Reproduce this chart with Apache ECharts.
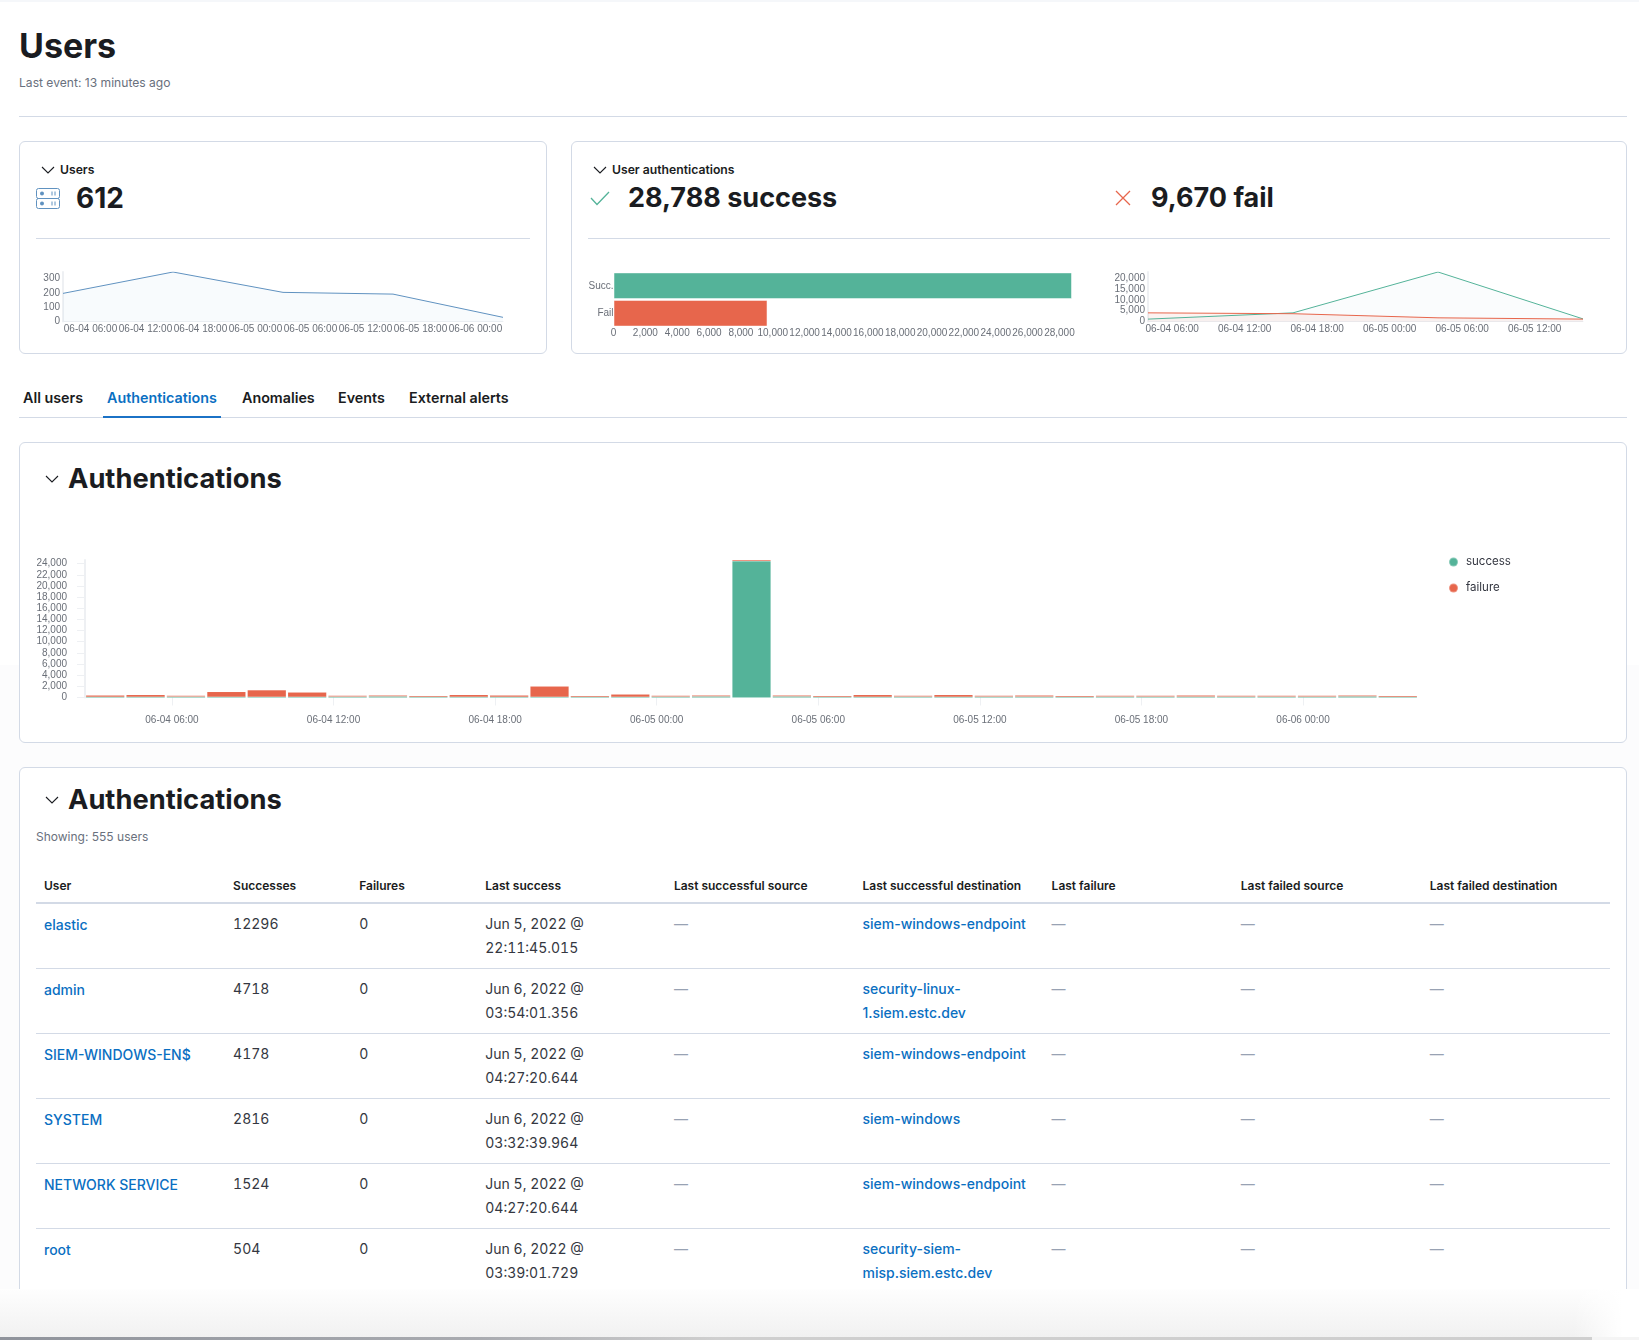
<!DOCTYPE html>
<html lang="en">
  <head>
    <meta charset="UTF-8" />
    <script src="https://cdn.jsdelivr.net/npm/echarts@6/dist/echarts.min.js"></script>
    <style>
      html,
      body {
        margin: 0;
        width: 1639px;
        height: 1340px;
        overflow: hidden;
        background: #fff;
        font-family: Inter, 'Noto Sans', sans-serif;
        color: #1a1c21;
      }
      .abs {
        position: absolute;
      }
      .card {
        position: absolute;
        box-sizing: border-box;
        border: 1px solid #d3dae6;
        border-radius: 6px;
        background: #fff;
      }
      .rule {
        position: absolute;
        height: 1px;
        background: #d3dae6;
      }
      .cardTitle {
        position: absolute;
        font-size: 12.2px;
        font-weight: 600;
        line-height: 16px;
      }
      .stat {
        position: absolute;
        font-size: 27px;
        font-weight: 700;
        line-height: 36px;
        white-space: nowrap;
      }
      .tab {
        position: absolute;
        top: 389px;
        font-size: 14.3px;
        font-weight: 600;
        line-height: 18px;
      }
      .panelTitle {
        position: absolute;
        left: 68px;
        font-size: 27.3px;
        font-weight: 700;
        line-height: 36px;
      }
      .chart {
        position: absolute;
      }
      table {
        border-collapse: collapse;
        table-layout: fixed;
        width: 1574px;
        font-size: 14px;
        line-height: 24px;
        color: #343741;
        font-variant-numeric: tabular-nums;
      }
      th {
        text-align: left;
        font-size: 12px;
        font-weight: 600;
        color: #1a1c21;
        height: 47px;
        padding: 14px 8px 0;
        border-bottom: 2px solid #d3dae6;
        box-sizing: border-box;
        font-variant-numeric: normal;
      }
      td {
        vertical-align: top;
        padding: 8px 8px 0;
        height: 65px;
        box-sizing: border-box;
        border-bottom: 1px solid #d3dae6;
      }
      td a {
        color: #0a6fc2;
        font-weight: 500;
        font-variant-numeric: normal;
      }
      td.user a {
        position: relative;
        top: 1px;
      }
      td.none {
        color: #98a2b3;
      }
    </style>
  </head>
  <body>
    <div class="abs" style="left: 0; top: 0; width: 1639px; height: 2px; background: #f5f7fa"></div>
    <div class="abs" style="left: 0; top: 665px; width: 1639px; height: 624px; background: #fcfcfd"></div>

    <div class="abs" style="left: 19px; top: 24px; font-size: 34px; font-weight: 700; line-height: 44px">Users</div>
    <div class="abs" style="left: 19px; top: 75px; font-size: 12.1px; line-height: 16px; color: #69707d">Last event: 13 minutes ago</div>
    <div class="rule" style="left: 19px; top: 116px; width: 1608px"></div>

    <div class="card" style="left: 19px; top: 141px; width: 528px; height: 213px"></div>
    <svg class="abs" style="left: 41px; top: 164px" width="14" height="12" viewBox="0 0 14 12">
      <path d="M1 3 L7 9 L13 3" fill="none" stroke="#1a1c21" stroke-width="1.1" />
    </svg>
    <div class="cardTitle" style="left: 60px; top: 162px">Users</div>
    <svg class="abs" style="left: 36px; top: 188px" width="24" height="21" viewBox="0 0 24 21">
      <g fill="none" stroke="#6092c0" stroke-width="1">
        <rect x="0.5" y="0.5" width="23" height="10" rx="2" />
        <rect x="0.5" y="10.5" width="23" height="10" rx="2" />
        <path d="M16 3.5 V7.5 M19 3.5 V7.5 M16 13.5 V17.5 M19 13.5 V17.5" />
      </g>
      <circle cx="6" cy="5.5" r="2" fill="#6092c0" />
      <circle cx="6" cy="15.5" r="2" fill="#6092c0" />
    </svg>
    <div class="stat" style="left: 76px; top: 180px; font-size: 28px">612</div>
    <div class="rule" style="left: 36px; top: 238px; width: 494px"></div>
    <div id="usersArea" class="chart" style="left: 20px; top: 262px; width: 520px; height: 85px"></div>

    <div class="card" style="left: 571px; top: 141px; width: 1056px; height: 213px"></div>
    <svg class="abs" style="left: 593px; top: 164px" width="14" height="12" viewBox="0 0 14 12">
      <path d="M1 3 L7 9 L13 3" fill="none" stroke="#1a1c21" stroke-width="1.1" />
    </svg>
    <div class="cardTitle" style="left: 612px; top: 162px">User authentications</div>
    <svg class="abs" style="left: 590px; top: 191px" width="20" height="15" viewBox="0 0 20 15">
      <path d="M1 7 L7 13.5 L19 1" fill="none" stroke="#54b399" stroke-width="1.3" />
    </svg>
    <div class="stat" style="left: 628px; top: 180px">28,788 success</div>
    <svg class="abs" style="left: 1115px; top: 190px" width="16" height="16" viewBox="0 0 16 16">
      <path d="M1 1 L15 15 M15 1 L1 15" fill="none" stroke="#e7664c" stroke-width="1.3" />
    </svg>
    <div class="stat" style="left: 1151px; top: 180px">9,670 fail</div>
    <div class="rule" style="left: 588px; top: 238px; width: 1022px"></div>
    <div id="authBars" class="chart" style="left: 570px; top: 262px; width: 520px; height: 85px"></div>
    <div id="authArea" class="chart" style="left: 1100px; top: 262px; width: 520px; height: 85px"></div>

    <div class="tab" style="left: 23px">All users</div>
    <div class="tab" style="left: 107px; color: #0a6fc2">Authentications</div>
    <div class="tab" style="left: 242px">Anomalies</div>
    <div class="tab" style="left: 338px">Events</div>
    <div class="tab" style="left: 409px">External alerts</div>
    <div class="rule" style="left: 19px; top: 417px; width: 1608px"></div>
    <div class="abs" style="left: 103px; top: 416px; width: 118px; height: 2px; background: #1b72c6"></div>

    <div class="card" style="left: 19px; top: 442px; width: 1608px; height: 301px"></div>
    <svg class="abs" style="left: 45px; top: 473px" width="14" height="12" viewBox="0 0 14 12">
      <path d="M1 3 L7 9 L13 3" fill="none" stroke="#1a1c21" stroke-width="1.1" />
    </svg>
    <div class="panelTitle" style="top: 461px">Authentications</div>
    <div id="authHistogram" class="chart" style="left: 20px; top: 550px; width: 1600px; height: 185px"></div>

    <div class="card" style="left: 19px; top: 767px; width: 1608px; height: 540px; overflow: hidden">
      <table id="authTable" class="abs" style="left: 16px; top: 88px"></table>
    </div>
    <svg class="abs" style="left: 45px; top: 794px" width="14" height="12" viewBox="0 0 14 12">
      <path d="M1 3 L7 9 L13 3" fill="none" stroke="#1a1c21" stroke-width="1.1" />
    </svg>
    <div class="panelTitle" style="top: 782px">Authentications</div>
    <div class="abs" style="left: 36px; top: 829px; font-size: 12px; line-height: 16px; color: #69707d">Showing: 555 users</div>

    <div class="abs" style="left: 0; top: 1289px; width: 1639px; height: 48px; background: linear-gradient(to right, rgba(255,255,255,0) 96%, #fff 99%), linear-gradient(#fefefe, #f1f1f1)"></div>
    <div class="abs" style="left: 0; top: 1337px; width: 1639px; height: 3px; background: #f4f4f4"></div>
    <div class="abs" style="left: 0; top: 1337px; width: 1592px; height: 3px; background: linear-gradient(to right, #8f939b, #a9abb0 30%, #cfcfcf 45%)"></div>

    <script>
      var SUCCESS_COLOR = '#54b399';
      var FAILURE_COLOR = '#e7664c';
      var BLUE_COLOR = '#6092c0';
      var LABEL_COLOR = '#6a6f78';
      var AXIS_COLOR = '#eef0f3';
      var LABEL_FONT = 'Liberation Sans';

      // Times are hours counted from 06-04 00:00
      var tickHours = [6, 12, 18, 24, 30, 36, 42, 48];
      var tickLabels = [
        '06-04 06:00',
        '06-04 12:00',
        '06-04 18:00',
        '06-05 00:00',
        '06-05 06:00',
        '06-05 12:00',
        '06-05 18:00',
        '06-06 00:00'
      ];

      var usersHours = [3, 15, 27, 39, 51];
      var usersValues = [196, 345, 203, 191, 29];

      var authCategories = ['Succ.', 'Fail'];
      var authTotals = [28788, 9670];

      var authHours = [4, 16, 28, 40];
      var authSuccess = [1100, 4000, 22900, 1200];
      var authFailure = [4000, 3600, 1700, 1100];

      // 33 buckets of 90 minutes
      var histogramStart = 2.77;
      var bucketHours = 1.5;
      var histogramSuccess = [
        120, 100, 150, 100, 110, 90, 140, 180, 130, 110, 120, 90, 130, 90, 160,
        180, 24460, 180, 120, 120, 150, 120, 140, 170, 120, 150, 140, 160, 170,
        170, 170, 210, 60
      ];
      var histogramFailure = [
        240, 380, 150, 920, 1210, 810, 160, 120, 110, 370, 240, 1890, 110, 450,
        140, 180, 200, 120, 120, 360, 150, 360, 160, 190, 120, 150, 160, 200,
        130, 130, 130, 150, 90
      ];

      var tableHeaders = [
        'User',
        'Successes',
        'Failures',
        'Last success',
        'Last successful source',
        'Last successful destination',
        'Last failure',
        'Last failed source',
        'Last failed destination'
      ];
      var columnWidths = [189, 126, 126, 188.5, 188.5, 189, 189, 189, 188];
      var userNames = ['elastic', 'admin', 'SIEM-WINDOWS-EN$', 'SYSTEM', 'NETWORK SERVICE', 'root'];
      var userSuccesses = [12296, 4718, 4178, 2816, 1524, 504];
      var userFailures = [0, 0, 0, 0, 0, 0];
      var lastSuccess = [
        'Jun 5, 2022 @ 22:11:45.015',
        'Jun 6, 2022 @ 03:54:01.356',
        'Jun 5, 2022 @ 04:27:20.644',
        'Jun 6, 2022 @ 03:32:39.964',
        'Jun 5, 2022 @ 04:27:20.644',
        'Jun 6, 2022 @ 03:39:01.729'
      ];
      var lastDestination = [
        'siem-windows-endpoint',
        'security-linux-1.siem.estc.dev',
        'siem-windows-endpoint',
        'siem-windows',
        'siem-windows-endpoint',
        'security-siem-misp.siem.estc.dev'
      ];

      function pairs(hours, values) {
        return values.map(function (v, i) {
          return [hours[i], v];
        });
      }

      function labelStyle(extra) {
        var style = { color: LABEL_COLOR, fontFamily: LABEL_FONT, fontSize: 10 };
        for (var k in extra) {
          style[k] = extra[k];
        }
        return style;
      }

      function hourAxis(min, max, margin, tickLength) {
        var values = tickHours.filter(function (h) {
          return h <= max;
        });
        return {
          type: 'value',
          min: min,
          max: max,
          axisLine: { show: !tickLength, lineStyle: { color: AXIS_COLOR } },
          axisTick: {
            show: !!tickLength,
            length: tickLength,
            customValues: values,
            lineStyle: { color: AXIS_COLOR }
          },
          axisLabel: labelStyle({
            customValues: values,
            margin: margin,
            hideOverlap: false,
            formatter: function (v) {
              return tickLabels[tickHours.indexOf(v)];
            }
          }),
          splitLine: { show: false }
        };
      }

      function valueAxis(interval, tickLength, margin) {
        return {
          type: 'value',
          min: 0,
          max: 'dataMax',
          interval: interval,
          axisLine: { show: true, lineStyle: { color: AXIS_COLOR, width: 2 } },
          axisTick: { show: !!tickLength, length: tickLength, lineStyle: { color: AXIS_COLOR } },
          axisLabel: labelStyle({ margin: margin, showMaxLabel: false }),
          splitLine: { show: false }
        };
      }

      function areaSeries(name, data, color, areaColor, opacity) {
        return {
          name: name,
          type: 'line',
          data: data,
          showSymbol: false,
          lineStyle: { color: color, width: 1 },
          areaStyle: { color: areaColor, opacity: opacity },
          itemStyle: { color: color }
        };
      }

      var usersChart = echarts.init(document.getElementById('usersArea'));
      usersChart.setOption({
        animation: false,
        grid: { left: 43, top: 10, width: 440, height: 49.5 },
        xAxis: hourAxis(usersHours[0], usersHours[4], 3),
        yAxis: valueAxis(100, 0, 3),
        series: [areaSeries('users', pairs(usersHours, usersValues), BLUE_COLOR, '#4aa0d0', 0.04)]
      });

      var barsChart = echarts.init(document.getElementById('authBars'));
      barsChart.setOption({
        animation: false,
        grid: { left: 43.5, top: 10, width: 458.5, height: 55 },
        xAxis: {
          type: 'value',
          min: 0,
          max: 'dataMax',
          interval: 2000,
          axisLine: { show: false },
          axisTick: { show: false },
          axisLabel: labelStyle({ margin: 1, showMaxLabel: false, hideOverlap: false }),
          splitLine: { show: false }
        },
        yAxis: {
          type: 'category',
          inverse: true,
          data: authCategories,
          axisLine: { show: false },
          axisTick: { show: false },
          axisLabel: labelStyle({ margin: 0 })
        },
        series: [
          {
            type: 'bar',
            barCategoryGap: '3%',
            data: authTotals.map(function (v, i) {
              return {
                value: v,
                itemStyle: {
                  color: i === 0 ? SUCCESS_COLOR : FAILURE_COLOR,
                  borderColor: 'rgba(255,255,255,0.5)',
                  borderWidth: 1
                }
              };
            })
          }
        ]
      });

      var authChart = echarts.init(document.getElementById('authArea'));
      authChart.setOption({
        animation: false,
        grid: { left: 48, top: 10, width: 435, height: 49.5 },
        xAxis: hourAxis(authHours[0], authHours[3], 3),
        yAxis: valueAxis(5000, 0, 3),
        series: [
          areaSeries('success', pairs(authHours, authSuccess), SUCCESS_COLOR, '#54a8b9', 0.03),
          areaSeries('failure', pairs(authHours, authFailure), FAILURE_COLOR, FAILURE_COLOR, 0.08)
        ]
      });

      // value first: stacking takes the first numeric dimension of the data
      function bucketData(values) {
        return values.map(function (v, i) {
          return [v, histogramStart + (i + 0.5) * bucketHours];
        });
      }
      function stackedBar(name, values, color) {
        return {
          name: name,
          type: 'bar',
          stack: 'total',
          barWidth: 38.5,
          barMinHeight: 1,
          encode: { x: 1, y: 0 },
          data: bucketData(values),
          itemStyle: {
            color: color,
            borderColor: 'rgba(255,255,255,0.3)',
            borderWidth: 0.25
          }
        };
      }

      var histogramChart = echarts.init(document.getElementById('authHistogram'));
      histogramChart.setOption({
        animation: false,
        legend: {
          orient: 'vertical',
          left: 1423,
          top: 1,
          icon: 'circle',
          itemWidth: 9,
          itemHeight: 9,
          itemGap: 14,
          selectedMode: false,
          textStyle: { color: '#343741', fontFamily: 'Inter', fontSize: 11.5, padding: [0, 0, 0, 3] }
        },
        grid: { left: 65, top: 10, width: 1333, height: 137.5 },
        xAxis: hourAxis(histogramStart, histogramStart + 33 * bucketHours, 18, 8),
        yAxis: valueAxis(2000, 8, 18),
        series: [
          stackedBar('success', histogramSuccess, SUCCESS_COLOR),
          stackedBar('failure', histogramFailure, FAILURE_COLOR)
        ]
      });

      // Table rows
      var table = document.getElementById('authTable');
      var html = '<colgroup>';
      columnWidths.forEach(function (w) {
        html += '<col style="width:' + w + 'px" />';
      });
      html += '</colgroup><thead><tr>';
      tableHeaders.forEach(function (h) {
        html += '<th>' + h + '</th>';
      });
      html += '</tr></thead><tbody>';
      userNames.forEach(function (name, i) {
        html +=
          '<tr><td class="user"><a>' + name + '</a></td>' +
          '<td>' + userSuccesses[i] + '</td>' +
          '<td>' + userFailures[i] + '</td>' +
          '<td>' + lastSuccess[i] + '</td>' +
          '<td class="none">—</td>' +
          '<td><a>' + lastDestination[i] + '</a></td>' +
          '<td class="none">—</td><td class="none">—</td><td class="none">—</td></tr>';
      });
      table.innerHTML = html + '</tbody>';
    </script>
  </body>
</html>
